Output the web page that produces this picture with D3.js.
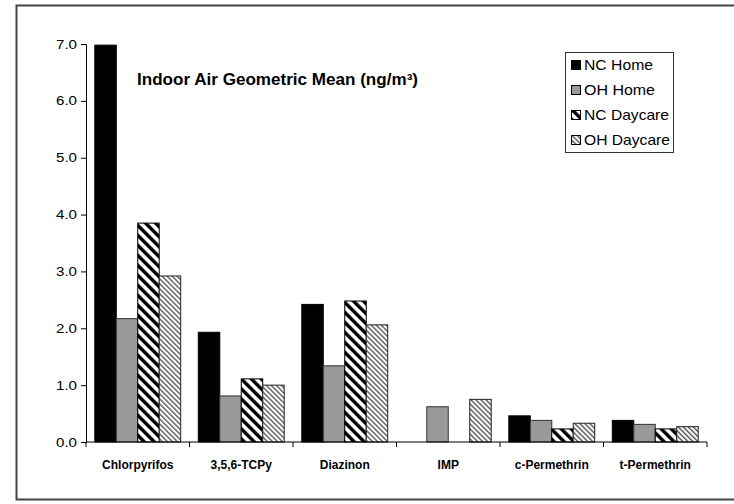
<!DOCTYPE html>
<html><head><meta charset="utf-8">
<script src="https://cdn.jsdelivr.net/npm/d3@7"></script>
<style>body{margin:0;background:#fff}svg{display:block}</style>
</head><body>
<script>
const categories = ["Chlorpyrifos","3,5,6-TCPy","Diazinon","IMP","c-Permethrin","t-Permethrin"];
const seriesNames = ["NC Home","OH Home","NC Daycare","OH Daycare"];
const ncHome     = [6.98, 1.93, 2.42, 0,    0.46, 0.38];
const ohHome     = [2.17, 0.81, 1.34, 0.62, 0.38, 0.31];
const ncDaycare  = [3.85, 1.11, 2.48, 0,    0.23, 0.23];
const ohDaycare  = [2.92, 1.00, 2.06, 0.75, 0.33, 0.27];
const yTicks = [0,1,2,3,4,5,6,7];
const title = "Indoor Air Geometric Mean (ng/m³)";

(function(){
const values = [ncHome, ohHome, ncDaycare, ohDaycare];
const W = 734, H = 504;
const svg = d3.select("body").append("svg").attr("width", W).attr("height", H);
const font = "Arial, 'Liberation Sans', sans-serif";

const defs = svg.append("defs");
const p1 = defs.append("pattern").attr("id","ncd").attr("patternUnits","userSpaceOnUse")
  .attr("width",7.07).attr("height",20).attr("patternTransform","rotate(-45)");
p1.append("rect").attr("width",7.07).attr("height",20).attr("fill","#fff");
p1.append("rect").attr("width",3.4).attr("height",20).attr("fill","#000");
const p2 = defs.append("pattern").attr("id","ohd").attr("patternUnits","userSpaceOnUse")
  .attr("width",3.54).attr("height",20).attr("patternTransform","rotate(-45)");
p2.append("rect").attr("width",3.54).attr("height",20).attr("fill","#fff");
p2.append("rect").attr("width",1.4).attr("height",20).attr("fill","#555");

const fills = ["#000","#999","url(#ncd)","url(#ohd)"];
const strokes = ["#000","#333","#000","#222"];

svg.append("rect").attr("x",16.5).attr("y",5.5).attr("width",740).attr("height",494)
  .attr("fill","none").attr("stroke","#444").attr("stroke-width",2);

const mLeft = 86, mRight = 707, mTop = 44, mBottom = 442;
const x = d3.scaleBand().domain(categories).range([mLeft,mRight]).paddingInner(0.17).paddingOuter(0.085);
const xs = d3.scaleBand().domain(seriesNames).range([0,x.bandwidth()]);
const y = d3.scaleLinear().domain([0,7]).range([mBottom,mTop]);

seriesNames.forEach((s,si)=>{
  svg.append("g").selectAll("rect").data(categories.map((c,i)=>({c,v:values[si][i]})).filter(d=>d.v>0))
    .join("rect")
    .attr("x",d=>x(d.c)+xs(s)).attr("y",d=>y(d.v))
    .attr("width",xs.bandwidth()).attr("height",d=>mBottom-y(d.v))
    .attr("fill",fills[si]).attr("stroke",strokes[si]).attr("stroke-width",1);
});

const yAxis = svg.append("g").attr("transform",`translate(${mLeft},0)`)
  .call(d3.axisLeft(y).tickValues(yTicks).tickFormat(d3.format(".1f")).tickSize(5).tickPadding(4));
yAxis.select(".domain").attr("stroke","#000");
yAxis.selectAll("line").attr("stroke","#000");
yAxis.selectAll("text").attr("font-family",font).attr("font-size",12.5).attr("fill","#000")
  .attr("textLength",21).attr("lengthAdjust","spacingAndGlyphs");

const xg = svg.append("g").attr("transform",`translate(0,${mBottom})`);
xg.append("line").attr("x1",mLeft).attr("x2",mRight).attr("stroke","#000");
const bounds = d3.range(categories.length+1).map(i=>mLeft + i*(mRight-mLeft)/categories.length);
xg.selectAll("line.t").data(bounds).join("line").attr("class","t")
  .attr("x1",d=>d).attr("x2",d=>d).attr("y1",0).attr("y2",5).attr("stroke","#000");
xg.selectAll("text").data(categories).join("text")
  .attr("x",(d,i)=>(bounds[i]+bounds[i+1])/2).attr("y",26.5)
  .attr("text-anchor","middle").attr("font-family",font).attr("font-size",12)
  .attr("font-weight","bold").text(d=>d);

svg.append("text").attr("x",137).attr("y",85).attr("font-family",font)
  .attr("font-size",16.5).attr("font-weight","bold")
  .attr("textLength",281).attr("lengthAdjust","spacingAndGlyphs").text(title);

const legendLen = [69, 71, 85, 86];
const lg = svg.append("g");
lg.append("rect").attr("x",565.5).attr("y",52.5).attr("width",108).attr("height",100)
  .attr("fill","#fff").attr("stroke","#333");
seriesNames.forEach((s,i)=>{
  const yy = 65.5 + i*25;
  lg.append("rect").attr("x",571.5).attr("y",yy-5).attr("width",9).attr("height",9)
    .attr("fill",fills[i]).attr("stroke","#000");
  lg.append("text").attr("x",584).attr("y",yy+4.5).attr("font-family",font)
    .attr("font-size",14.5).attr("textLength",legendLen[i]).attr("lengthAdjust","spacingAndGlyphs").text(s);
});
})();
</script>
</body></html>
